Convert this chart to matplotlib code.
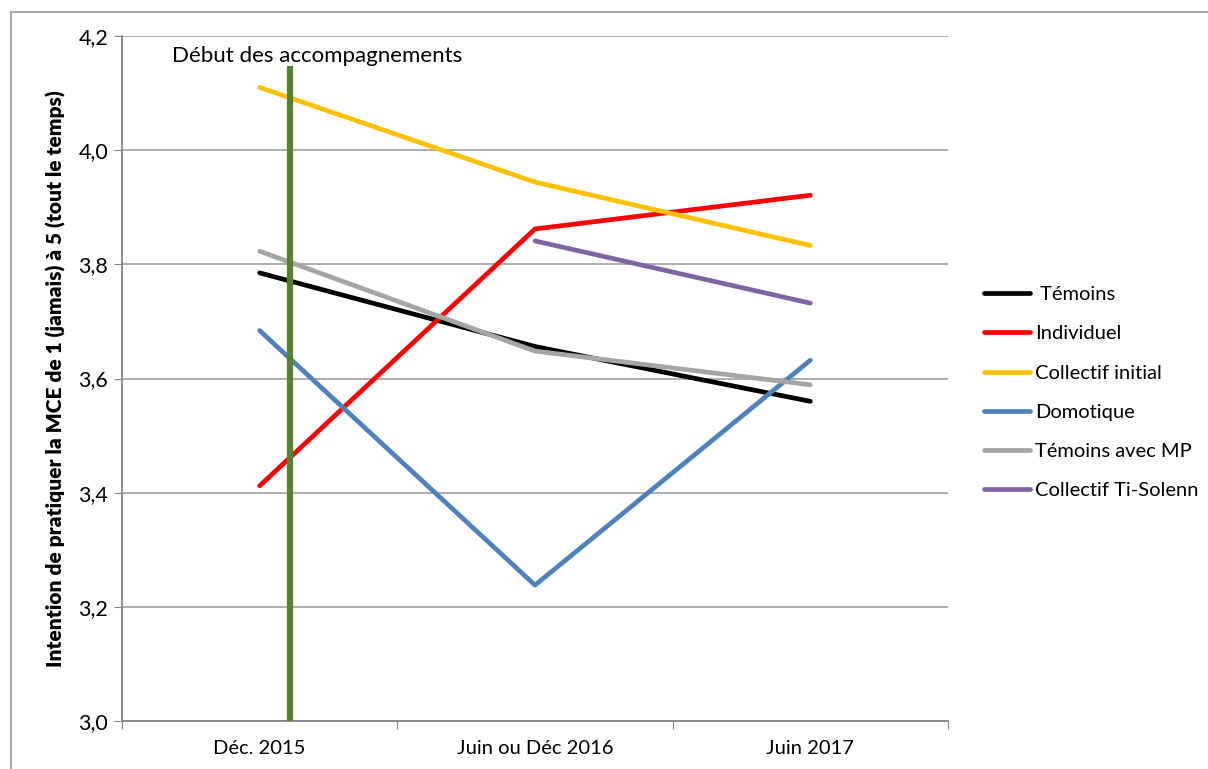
import matplotlib.pyplot as plt
from matplotlib.lines import Line2D

plt.rcParams['font.family'] = ['Lato', 'DejaVu Sans']

# Data
periods = ['Déc. 2015', 'Juin ou Déc 2016', 'Juin 2017']
temoins = [3.785, 3.656, 3.560]
individuel = [3.412, 3.862, 3.921]
collectif_initial = [4.110, 3.944, 3.833]
domotique = [3.684, 3.238, 3.632]
temoins_mp = [3.823, 3.648, 3.589]
ti_solenn = [None, 3.841, 3.732]
debut_x = 0.61
debut_top = 4.142

series = [
    ('Témoins', temoins, '#000000'),
    ('Individuel', individuel, '#ff0000'),
    ('Collectif initial', collectif_initial, '#ffc000'),
    ('Domotique', domotique, '#4f81bd'),
    ('Témoins avec MP', temoins_mp, '#a5a5a5'),
    ('Collectif Ti-Solenn', ti_solenn, '#8064a2'),
]

fig = plt.figure(figsize=(12.08, 7.69), dpi=100)
ax = fig.add_axes([122 / 1208, 1 - 721 / 769, 826 / 1208, 685 / 769])

xs = [0.5, 1.5, 2.5]
handles = []
for name, vals, col in series:
    px = [x for x, v in zip(xs, vals) if v is not None]
    py = [v for v in vals if v is not None]
    ax.plot(px, py, color=col, lw=3.4, solid_capstyle='round', zorder=3)
    handles.append(Line2D([0], [0], color=col, lw=3.4, solid_capstyle='round'))

# vertical marker for the start of the programme
ax.plot([debut_x, debut_x], [3.0, debut_top], color='#548235', lw=4.5, zorder=4)
ax.text(0.18, 4.165, 'Début des accompagnements', fontsize=16, va='center', ha='left')

ax.set_xlim(0, 3)
ax.set_ylim(3.0, 4.2)
ax.set_yticks([3.0, 3.2, 3.4, 3.6, 3.8, 4.0, 4.2])
ax.set_yticklabels([f'{v:.1f}'.replace('.', ',') for v in ax.get_yticks()])
ax.set_xticks([0, 1, 2, 3])
ax.set_xticklabels([])
ax.set_xticks(xs, minor=True)
ax.set_xticklabels(periods, minor=True)
ax.tick_params(axis='x', which='minor', length=0, pad=14, labelsize=14.5)
ax.tick_params(axis='x', which='major', length=6, color='#868686', direction='out')
ax.tick_params(axis='y', length=6, color='#868686', labelsize=15.5, pad=4)
ax.grid(axis='y', color='#a0a0a0', lw=1.2)
ax.set_axisbelow(True)
for s in ['top', 'right']:
    ax.spines[s].set_visible(False)
for s in ['left', 'bottom']:
    ax.spines[s].set_color('#868686')
    ax.spines[s].set_linewidth(1.3)

ax.set_ylabel('Intention de pratiquer la MCE de 1 (jamais) à 5 (tout le temps)',
              fontsize=15, fontweight='heavy', labelpad=9)

fig.legend(handles, [' Témoins'] + [s[0] for s in series[1:]],
           loc='upper left', bbox_to_anchor=(966 / 1208, 1 - 268 / 769),
           frameon=False, fontsize=14.5, handlelength=2.3, handletextpad=0.25,
           labelspacing=1.1)

# outer chart frame
fig.patches.append(plt.Rectangle((11 / 1208, -0.01), 1.5, 1 - 12 / 769 + 0.01,
                                 transform=fig.transFigure, fill=False,
                                 edgecolor='#a0a0a0', lw=1.3))

fig.savefig('out.png', dpi=100)
